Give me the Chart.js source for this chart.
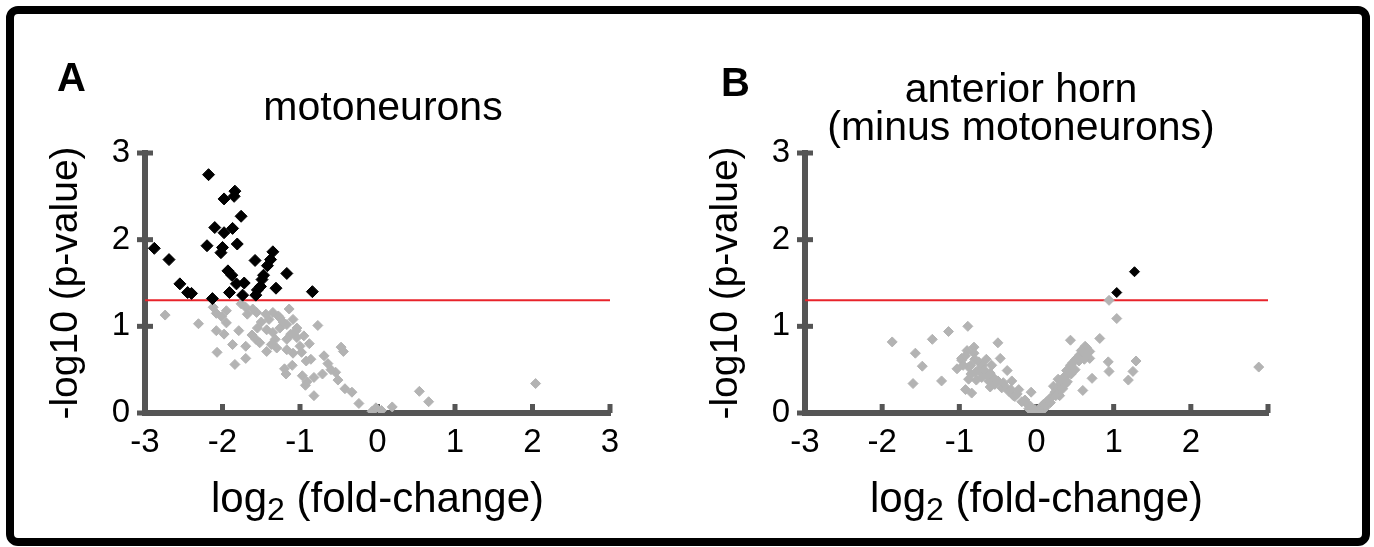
<!DOCTYPE html>
<html>
<head>
<meta charset="utf-8">
<script src="https://cdn.jsdelivr.net/npm/chart.js@4/dist/chart.umd.min.js"></script>
<style>
  html, body { margin: 0; padding: 0; background: #fff; }
  #page { position: relative; width: 1374px; height: 547px; overflow: hidden; }
  #frame { position: absolute; left: 6px; top: 6px; width: 1348px; height: 524px; border: 8px solid #000; border-radius: 12px; }
  canvas { position: absolute; top: 0; }
</style>
</head>
<body>
<div id="page">
  <div id="frame"></div>
  <canvas id="chartA" width="687" height="547" style="left:0"></canvas>
  <canvas id="chartB" width="687" height="547" style="left:687px"></canvas>
</div>
<script>
// -log10(0.05)
const threshold = 1.30103;
const xTicks = [-3, -2, -1, 0, 1, 2, 3];
const yTicks = [0, 1, 2, 3];
const xTickLabelsA = ['-3', '-2', '-1', '0', '1', '2', '3'];
const xTickLabelsB = ['-3', '-2', '-1', '0', '1', '2', ''];

// A: motoneurons, significant (black)
const aSigX = [-2.18, -1.84, -1.85, -1.98, -1.76, -2.10, -1.98, -1.87, -2.88, -2.20, -1.81, -2.00, -2.02, -2.69, -1.35, -1.58, -1.38, -1.42,
  -1.93, -1.17, -1.88, -1.47, -1.49, -2.55, -1.82, -1.72, -1.51, -1.31, -2.45, -2.40, -1.91, -1.74, -1.57, -0.84, -2.13, -1.55];
const aSigY = [2.75, 2.56, 2.50, 2.47, 2.27, 2.14, 2.08, 2.13, 1.90, 1.93, 1.95, 1.91, 1.85, 1.77, 1.86, 1.76, 1.77, 1.70,
  1.64, 1.61, 1.59, 1.59, 1.54, 1.49, 1.49, 1.50, 1.46, 1.44, 1.39, 1.38, 1.39, 1.36, 1.36, 1.40, 1.32, 1.42];

// A: not significant (grey)
const aNsX = [-2.74, -2.31, -2.08, -1.95, -2.01, -1.95, -2.08, -1.98, -1.79, -1.87, -2.07, -1.70, -1.70, -1.84, -1.57, -1.56, -1.70, -1.76,
  -1.44, -1.35, -1.26, -1.14, -1.09, -1.17, -1.26, -1.43, -1.35, -1.12, -1.04, -0.95, -1.37, -1.30, -1.43, -1.17, -1.09, -1.00,
  -0.77, -0.92, -1.20, -1.18, -0.97, -0.91, -0.82, -0.71, -0.69, -0.64, -0.47, -0.44, -0.54, -0.51, -0.42, -0.33, -0.82, -0.24,
  -0.07, 0.19, 0.54, 0.66, 2.04, -1.32, -1.52, -1.17, -1.04, -1.68, -1.61, -2.12, -1.10, -0.93, -1.50, -1.22, -1.62, -0.88,
  -0.60, -0.02, 0.05, -1.40, -1.28, -1.05, -1.55, -0.98, -0.86];
const aNsY = [1.13, 1.03, 1.15, 1.18, 1.11, 1.04, 0.95, 0.91, 0.95, 0.79, 0.70, 0.77, 0.63, 0.56, 0.85, 1.16, 1.22, 1.26,
  1.14, 1.16, 1.10, 1.20, 1.08, 1.02, 0.98, 0.96, 0.93, 0.91, 0.87, 0.89, 0.79, 0.75, 0.71, 0.73, 0.69, 0.77,
  1.01, 0.60, 0.51, 0.45, 0.43, 0.36, 0.41, 0.45, 0.66, 0.57, 0.76, 0.71, 0.47, 0.38, 0.28, 0.24, 0.20, 0.11,
  0.02, 0.07, 0.25, 0.13, 0.34, 0.85, 0.81, 0.85, 0.98, 1.14, 1.20, 1.22, 0.55, 0.32, 1.05, 1.05, 0.90, 0.80,
  0.50, 0.06, 0.03, 1.08, 1.12, 0.95, 0.98, 0.70, 0.62];

// B: anterior horn (minus motoneurons)
const bSigX = [1.27, 1.04];
const bSigY = [1.63, 1.39];

const bNsX = [0.94, 1.04, 0.82, 0.44, 0.63, 0.69, 0.93, 0.94, 1.29, 1.25, 1.19, 0.72, 0.60, 2.88,
  -1.87, -1.57, -1.48, -1.60, -1.35, -1.14, -0.89, -1.23, -0.81, -0.81, -0.50, -0.97, -1.03, -0.92, -0.84, -0.88,
  -0.75, -0.71, -0.47, -0.58, -0.38, -0.32, -0.41, -0.23, -0.07, -0.15, -0.08, -0.02,
  0.07, 0.13, 0.20, 0.26, 0.31, 0.35, 0.39, 0.44, 0.50, 0.56, 0.65, 0.69, 0.22, 0.28, 0.37,
  -0.97, -0.88, -0.79, -0.71, -0.62, -0.54, -0.45, -0.36, -0.28, -0.19,
  -0.90, -0.85, -0.70, -0.65, -0.55, -0.60, -0.30, -0.10, 0.05, 0.10, 0.15, 0.30, 0.45, 0.50, 0.55, 0.60, 0.62,
  0.03, 0.09, 0.17, 0.24, 0.33, 0.41, 0.47, 0.53, 0.58, 0.63, 0.40, 0.34, 0.25, 0.18,
  -0.05, -0.12, -0.25, -0.33, -0.43, -0.50, -0.60, -0.68, -0.75, -0.80, -0.92, -0.95, -0.85, -0.78, -0.65];
const bNsY = [1.30, 1.09, 0.86, 0.84, 0.77, 0.71, 0.59, 0.48, 0.60, 0.48, 0.38, 0.40, 0.26, 0.53,
  0.82, 0.69, 0.54, 0.34, 0.85, 0.94, 1.00, 0.37, 0.76, 0.69, 0.81, 0.63, 0.51, 0.27, 0.23, 0.39,
  0.59, 0.47, 0.63, 0.55, 0.49, 0.37, 0.31, 0.27, 0.24, 0.15, 0.08, 0.04,
  0.08, 0.13, 0.19, 0.27, 0.33, 0.41, 0.49, 0.55, 0.61, 0.67, 0.75, 0.63, 0.31, 0.39, 0.33,
  0.61, 0.53, 0.47, 0.41, 0.37, 0.33, 0.29, 0.25, 0.19, 0.13,
  0.72, 0.55, 0.55, 0.45, 0.40, 0.30, 0.20, 0.05, 0.02, 0.05, 0.10, 0.20, 0.45, 0.50, 0.60, 0.70, 0.62,
  0.03, 0.10, 0.16, 0.24, 0.37, 0.45, 0.58, 0.64, 0.72, 0.68, 0.36, 0.28, 0.20, 0.12,
  0.03, 0.10, 0.22, 0.27, 0.35, 0.37, 0.46, 0.50, 0.50, 0.62, 0.66, 0.55, 0.45, 0.38, 0.62];

const FONT = '"Liberation Sans", Arial, sans-serif';
const AXIS = '#555555';
const GREY = '#b3b3b3';
const RED = '#e8232b';

const zip = (xs, ys) => xs.map((x, i) => ({x: x, y: ys[i]}));

// inward ticks on the x axis, cross ticks on the y axis, panel letter, titles
const decor = {
  id: 'decor',
  beforeDatasetsDraw(chart, args, opts) {
    const {ctx, scales: {x, y}} = chart;
    ctx.save();
    ctx.fillStyle = AXIS;
    xTicks.forEach(v => {
      const px = x.getPixelForValue(v);
      ctx.fillRect(px - 2.5, y.bottom - 9, 5, 9);
    });
    yTicks.forEach(v => {
      const py = y.getPixelForValue(v);
      ctx.fillRect(x.left - 8, py - 2.5, 16, 5);
    });
    ctx.restore();
  },
  afterDraw(chart, args, opts) {
    const {ctx, chartArea} = chart;
    ctx.save();
    ctx.fillStyle = '#000';
    ctx.textBaseline = 'alphabetic';
    ctx.textAlign = 'left';
    ctx.font = 'bold 40px ' + FONT;
    ctx.fillText(opts.letter, opts.letterX, opts.letterY);

    ctx.textAlign = 'center';
    ctx.font = opts.titleSize + 'px ' + FONT;
    opts.title.forEach((t, i) => ctx.fillText(t, opts.titleX, opts.titleY + i * 38));

    // x axis title: log with a lowered, full-size 2
    const big = '42px ' + FONT, small = '32px ' + FONT;
    ctx.textAlign = 'left';
    ctx.font = big;
    const w1 = ctx.measureText('log').width, w3 = ctx.measureText(' (fold-change)').width;
    ctx.font = small;
    const w2 = ctx.measureText('2').width;
    let px = (chartArea.left + chartArea.right) / 2 - (w1 + w2 + w3) / 2;
    const base = 512;
    ctx.font = big;
    ctx.fillText('log', px, base);
    px += w1;
    ctx.font = small;
    ctx.fillText('2', px, base + 8);
    px += w2;
    ctx.font = big;
    ctx.fillText(' (fold-change)', px, base);
    ctx.restore();
  }
};

function makeChart(id, sig, ns, labels, yWidth, padRight, text, pointR) {
  return new Chart(document.getElementById(id), {
    type: 'scatter',
    data: {
      datasets: [
        {data: [{x: -3, y: threshold}, {x: 3, y: threshold}], showLine: true, borderColor: RED, borderWidth: 2,
          pointRadius: 0, order: 3},
        {data: ns, pointStyle: 'rectRot', pointRadius: pointR[0], backgroundColor: GREY, borderColor: GREY,
          pointBorderWidth: 1, order: 2},
        {data: sig, pointStyle: 'rectRot', pointRadius: pointR[1], backgroundColor: '#000', borderColor: '#000',
          pointBorderWidth: 1, order: 1}
      ]
    },
    options: {
      responsive: false,
      animation: false,
      layout: {padding: {left: 0, right: padRight, top: 153, bottom: 0}},
      plugins: {legend: {display: false}, tooltip: {enabled: false}, decor: text},
      scales: {
        x: {
          type: 'linear', min: -3, max: 3,
          grid: {display: false, drawTicks: false},
          border: {color: AXIS, width: 6},
          ticks: {stepSize: 1, padding: 10, color: '#000', font: {family: FONT, size: 33}, maxRotation: 0,
            autoSkip: false, callback: (v, i) => labels[i]},
          afterFit: s => { s.height = 134; }
        },
        y: {
          type: 'linear', min: 0, max: 3,
          grid: {display: false, drawTicks: false},
          border: {color: AXIS, width: 6},
          ticks: {stepSize: 1, padding: 15, color: '#000', font: {family: FONT, size: 33}},
          title: {display: true, text: '-log10 (p-value)', color: '#000', font: {family: FONT, size: 39},
            padding: {top: yWidth - 102, bottom: 0}},
          afterFit: s => { s.width = yWidth; }
        }
      }
    },
    plugins: [decor]
  });
}

makeChart('chartA', zip(aSigX, aSigY), zip(aNsX, aNsY), xTickLabelsA, 145, 77,
  {letter: 'A', letterX: 57, letterY: 91, title: ['motoneurons'], titleSize: 41, titleX: 383, titleY: 120}, [5, 6]);
makeChart('chartB', zip(bSigX, bSigY), zip(bNsX, bNsY), xTickLabelsB, 118, 106,
  {letter: 'B', letterX: 34, letterY: 96, title: ['anterior horn', '(minus motoneurons)'], titleSize: 41, titleX: 334, titleY: 102}, [5, 5]);
</script>
</body>
</html>
